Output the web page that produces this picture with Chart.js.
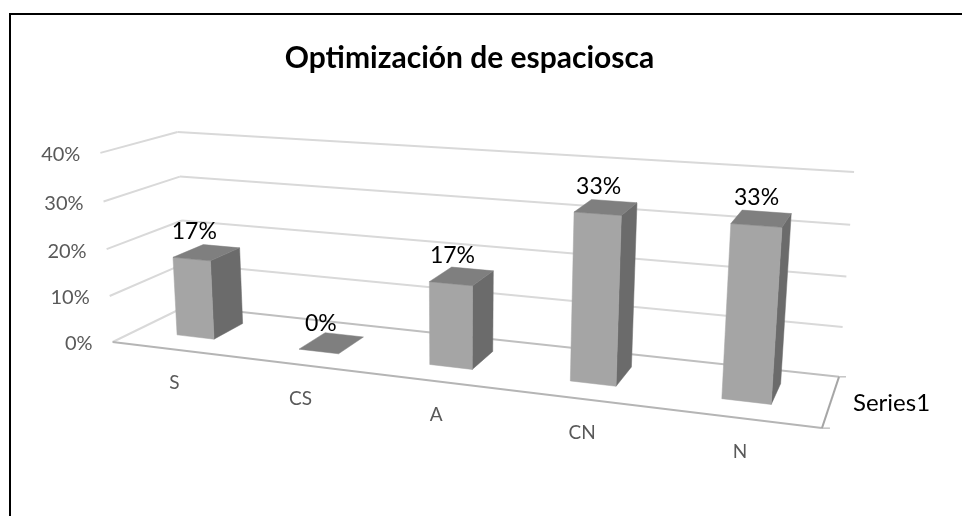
<!DOCTYPE html>
<html><head><meta charset="utf-8">
<script src="https://cdn.jsdelivr.net/npm/chart.js@4"></script>
<style>html,body{margin:0;padding:0;background:#fff}#w{position:relative;width:962px;height:516px}canvas{display:block}</style>
</head><body><div id="w"><canvas id="c" width="962" height="516"></canvas></div>
<script>
const categories = ['S','CS','A','CN','N'];
const seriesName = 'Series1';
const seriesValues = [17,0,17,33,33];
const yTicks = [0,10,20,30,40];
const titleText = 'Optimización de espaciosca';
const FONT = 'Lato, Carlito, sans-serif';

// Camera: maps (u across, v value 0..1, z depth) to the screen. Fitted to the box corners.
const boxCorners = [
  [0,0,0,113,342],[0,1,0,100,153],[0,0,1,186,306],[0,1,1,178,132],
  [1,0,1,839,377],[1,1,1,854,172],[1,0,0,822,428]
];
function fitCamera(pts){
  const A=[];
  for(const [x,y,z,sx,sy] of pts){
    A.push([x,y,z,1,0,0,0,0,-sx*x,-sx*y,-sx*z,sx]);
    A.push([0,0,0,0,x,y,z,1,-sy*x,-sy*y,-sy*z,sy]);
  }
  const n=11,M=[];
  for(let i=0;i<n;i++){M.push(new Array(n+1).fill(0));
    for(const r of A){for(let j=0;j<=n;j++)M[i][j]+=r[i]*r[j];}}
  for(let i=0;i<n;i++){
    let p=i;for(let k=i+1;k<n;k++)if(Math.abs(M[k][i])>Math.abs(M[p][i]))p=k;
    [M[i],M[p]]=[M[p],M[i]];
    for(let k=0;k<n;k++){if(k===i)continue;const f=M[k][i]/M[i][i];
      for(let j=i;j<=n;j++)M[k][j]-=f*M[i][j];}
  }
  return M.map((r,i)=>r[n]/r[i]);
}
const cam=fitCamera(boxCorners);
function proj(u,v,z){
  const w=cam[8]*u+cam[9]*v+cam[10]*z+1;
  return [(cam[0]*u+cam[1]*v+cam[2]*z+cam[3])/w,(cam[4]*u+cam[5]*v+cam[6]*z+cam[7])/w];
}
const Z0=0.31, Z1=0.73;
let theChart=null;
function uOf(px){const a=theChart.chartArea;return (px-a.left)/(a.right-a.left);}
function vOf(py){const a=theChart.chartArea;return (a.bottom-py)/(a.bottom-a.top);}
function poly(ctx,pts,fill){
  ctx.beginPath();pts.forEach((p,i)=>i?ctx.lineTo(p[0],p[1]):ctx.moveTo(p[0],p[1]));ctx.closePath();
  ctx.fillStyle=fill;ctx.fill();ctx.strokeStyle=fill;ctx.lineWidth=0.5;ctx.stroke();
}
Chart.BarElement.prototype.draw=function(ctx){
  if(!theChart)return;
  const u0=uOf(this.x-this.width/2),u1=uOf(this.x+this.width/2);
  const v0=vOf(this.base),v1=vOf(this.y);
  ctx.save();
  if(v1>v0){
    poly(ctx,[proj(u1,v0,Z0),proj(u1,v0,Z1),proj(u1,v1,Z1),proj(u1,v1,Z0)],'#6b6b6b');
    poly(ctx,[proj(u0,v0,Z0),proj(u1,v0,Z0),proj(u1,v1,Z0),proj(u0,v1,Z0)],'#a5a5a5');
  }
  poly(ctx,[proj(u0,v1,Z0),proj(u1,v1,Z0),proj(u1,v1,Z1),proj(u0,v1,Z1)],'#7f7f7f');
  ctx.restore();
};
function seg(ctx,a,b,color,lw){ctx.beginPath();ctx.moveTo(a[0],a[1]);ctx.lineTo(b[0],b[1]);ctx.strokeStyle=color;ctx.lineWidth=lw;ctx.stroke();}
const box3d={
  id:'box3d',
  beforeDatasetsDraw(chart){
    theChart=chart;
    const ctx=chart.ctx,ys=chart.scales.y;
    ctx.save();
    for(const t of ys.ticks){
      const v=vOf(ys.getPixelForValue(t.value));
      const base=t.value===0;
      seg(ctx,proj(0,v,0),proj(0,v,1),'#d9d9d9',2);
      seg(ctx,proj(0,v,1),proj(1,v,1),base?'#bfbfbf':'#d9d9d9',2);
      ctx.fillStyle='#595959';ctx.font='20px '+FONT;ctx.textAlign='right';ctx.textBaseline='middle';
      const p=proj(0,v,0);
      ctx.fillText(t.value+'%',p[0]-20,p[1]+2);
    }
    seg(ctx,proj(0,0,0),proj(1,0,0),'#b5b5b5',2);
    seg(ctx,proj(1,0,0),proj(1,0,1),'#a6a6a6',2);
    const c=proj(1,0,1),d=proj(1,0,0);
    seg(ctx,c,[c[0]+7,c[1]],'#a6a6a6',1);
    seg(ctx,d,[d[0]+8,d[1]],'#a6a6a6',1);
    const xs=chart.scales.x;
    ctx.fillStyle='#595959';ctx.font='19px '+FONT;ctx.textAlign='center';ctx.textBaseline='middle';
    categories.forEach((lab,i)=>{
      const p=proj(uOf(xs.getPixelForValue(i)),0,0);
      ctx.fillText(lab,p[0]+2,p[1]+34);
    });
    ctx.fillStyle='#000';ctx.font='24px '+FONT;ctx.textAlign='left';
    ctx.fillText(seriesName,c[0]+14,(c[1]+d[1])/2+1);
    ctx.restore();
  },
  afterDatasetsDraw(chart){
    const ctx=chart.ctx,meta=chart.getDatasetMeta(0);
    ctx.save();ctx.fillStyle='#000';ctx.font='23px '+FONT;ctx.textAlign='center';ctx.textBaseline='middle';
    meta.data.forEach((el,i)=>{
      const p=proj(uOf(el.x),vOf(el.y),Z0+0.05);
      ctx.fillText(seriesValues[i]+'%',p[0]-1,p[1]-26);
    });
    ctx.restore();
  },
  afterDraw(chart){
    const ctx=chart.ctx;
    ctx.save();ctx.strokeStyle='#000';ctx.lineWidth=2;
    ctx.beginPath();ctx.moveTo(10,516);ctx.lineTo(10,14);ctx.lineTo(962,14);ctx.stroke();
    ctx.restore();
  }
};
new Chart(document.getElementById('c'),{
  type:'bar',
  data:{labels:categories,datasets:[{label:seriesName,data:seriesValues,backgroundColor:'#a5a5a5',barPercentage:0.31,categoryPercentage:1}]},
  options:{
    responsive:false,animation:false,
    layout:{padding:{left:77,right:100,top:100,bottom:100}},
    plugins:{legend:{display:false},tooltip:{enabled:false},
      title:{display:true,text:titleText,color:'#000',font:{family:FONT,size:30,weight:'bold'},padding:{top:-60,bottom:0}}},
    scales:{
      x:{display:false},
      y:{display:false,min:0,max:40,afterBuildTicks(s){s.ticks=yTicks.map(v=>({value:v}));}}
    }
  },
  plugins:[box3d]
});
</script></body></html>
